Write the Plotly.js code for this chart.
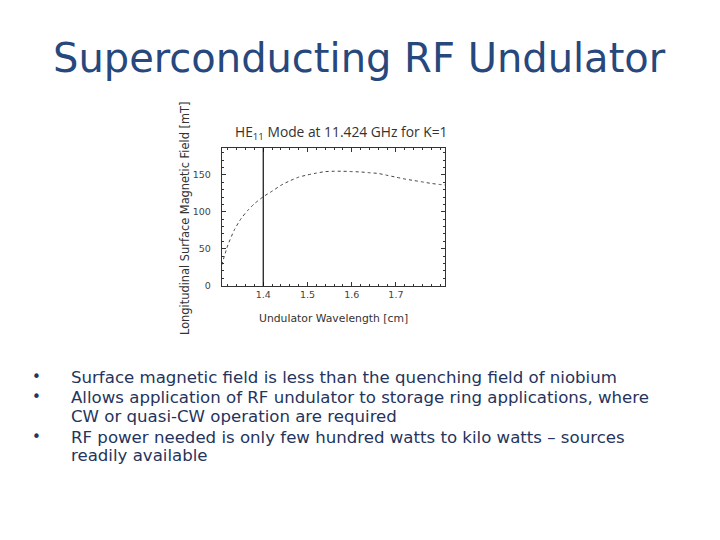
<!DOCTYPE html>
<html>
<head>
<meta charset="utf-8">
<script src="https://cdn.plot.ly/plotly-3.0.1.min.js"></script>
<style>html,body{margin:0;padding:0;background:#fff;}#chart{width:720px;height:540px;}</style>
</head>
<body>
<div id="chart"></div>
<script>
// Data
const wavelength = [1.306, 1.32, 1.335, 1.35, 1.365, 1.38, 1.40, 1.42, 1.44, 1.46, 1.48, 1.50, 1.52, 1.54, 1.56, 1.58, 1.60, 1.62, 1.64, 1.66, 1.68, 1.70, 1.72, 1.74, 1.76, 1.78, 1.80, 1.811];
const field = [28, 55, 76, 91, 102, 111, 120.5, 128, 136, 142, 147, 150, 152.5, 154.5, 155, 155, 154.5, 154, 153, 152, 149.5, 147, 144.5, 142.5, 140.5, 138.5, 137, 136.4];
const cutoffWavelength = 1.4;
const xTicks = [1.4, 1.5, 1.6, 1.7];
const xTickLabels = ["1.4", "1.5", "1.6", "1.7"];
const yTicks = [0, 50, 100, 150];
const yTickLabels = ["0", "50", "100", "150"];

const slideTitle = "Superconducting RF Undulator";
const plotTitle = "HE<sub>11</sub> Mode at 11.424 GHz for K=1";
const xTitle = "Undulator Wavelength [cm]";
const yTitle = "Longitudinal Surface Magnetic Field [mT]";
const bulletLines = [
  {bullet: true, text: "Surface magnetic field is less than the quenching field of niobium"},
  {bullet: true, text: "Allows application of RF undulator to storage ring applications, where"},
  {bullet: false, text: "CW or quasi-CW operation are required"},
  {bullet: true, text: "RF power needed is only few hundred watts to kilo watts – sources"},
  {bullet: false, text: "readily available"}
];

const W = 720, H = 540;
const px = x => x / W;
const py = y => 1 - y / H;

const navy = "#27487c";
const textNavy = "#25345c";
const bulletY = [377, 397, 416, 437, 455];

const annotations = [
  {text: slideTitle, x: px(359), y: py(58), xref: "paper", yref: "paper", xanchor: "center", yanchor: "middle", showarrow: false,
   font: {family: "DejaVu Sans", size: 40, color: navy}},
  {text: plotTitle, x: px(341), y: py(133), xref: "paper", yref: "paper", xanchor: "center", yanchor: "middle", showarrow: false,
   font: {family: "Open Sans", size: 13.8, color: "#333"}},
  {text: xTitle, x: px(333), y: py(318), xref: "paper", yref: "paper", xanchor: "center", yanchor: "middle", showarrow: false,
   font: {family: "DejaVu Sans", size: 10.8, color: "#333"}},
  {text: yTitle, x: px(185), y: py(218), xref: "paper", yref: "paper", xanchor: "center", yanchor: "middle", showarrow: false, textangle: -90,
   font: {family: "DejaVu Sans", size: 11.4, color: "#333"}}
];
bulletLines.forEach((ln, i) => {
  if (ln.bullet) {
    annotations.push({text: "•", x: px(30), y: py(bulletY[i]), xref: "paper", yref: "paper", xanchor: "left", yanchor: "middle", showarrow: false,
      font: {family: "DejaVu Sans", size: 15, color: textNavy}});
  }
  annotations.push({text: ln.text, x: px(69), y: py(bulletY[i]), xref: "paper", yref: "paper", xanchor: "left", yanchor: "middle", showarrow: false,
    font: {family: "DejaVu Sans", size: 16.6, color: textNavy}});
});

const traces = [{
  x: wavelength, y: field, type: "scatter", mode: "lines",
  line: {color: "#444", width: 1, dash: "3px,3px", shape: "spline", smoothing: 0.6},
  hoverinfo: "skip"
}];

const layout = {
  width: W, height: H,
  margin: {l: 0, r: 0, t: 0, b: 0},
  paper_bgcolor: "#fff", plot_bgcolor: "#fff",
  showlegend: false,
  xaxis: {
    domain: [px(221.7), px(445)], range: [1.306, 1.811],
    tickvals: xTicks, ticktext: xTickLabels,
    ticks: "inside", ticklen: 4, tickcolor: "#333", tickwidth: 1,
    showline: true, linecolor: "#333", linewidth: 1, mirror: "ticks",
    showgrid: false, zeroline: false,
    tickfont: {family: "DejaVu Sans", size: 9.5, color: "#444"},
    minor: {dtick: 0.02, tick0: 1.4, ticks: "inside", ticklen: 2, tickcolor: "#333", showgrid: false}
  },
  yaxis: {
    domain: [py(286), py(148)], range: [-0.5, 186.5],
    tickvals: yTicks, ticktext: yTickLabels,
    ticks: "inside", ticklen: 4, tickcolor: "#333", tickwidth: 1,
    showline: true, linecolor: "#333", linewidth: 1, mirror: "ticks",
    showgrid: false, zeroline: false, ticklabelstandoff: 8,
    tickfont: {family: "DejaVu Sans", size: 9.5, color: "#444"},
    minor: {dtick: 10, tick0: 0, ticks: "inside", ticklen: 2, tickcolor: "#333", showgrid: false}
  },
  shapes: [{type: "line", xref: "x", yref: "paper", x0: cutoffWavelength, x1: cutoffWavelength, y0: py(286), y1: py(148),
    line: {color: "#111", width: 1.2}}],
  annotations: annotations
};

Plotly.newPlot("chart", traces, layout, {staticPlot: true, displayModeBar: false});
</script>
</body>
</html>
